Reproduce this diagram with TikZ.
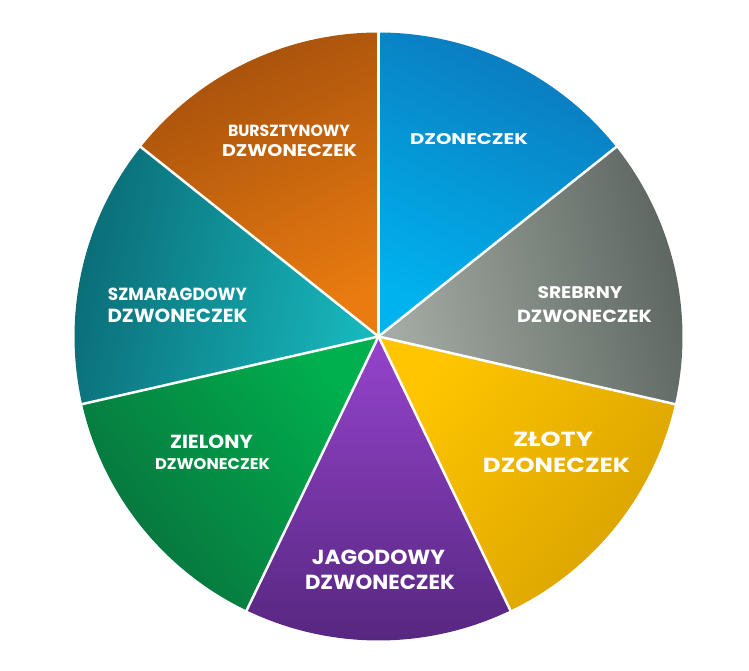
\documentclass[tikz,border=0pt]{standalone}
\usepackage{fontspec}
\usepackage{graphicx}
\setmainfont{Poppins}
\definecolor{bluedark}{HTML}{0B79BD}\definecolor{bluelight}{HTML}{00B2EE}
\definecolor{greydark}{HTML}{5A635D}\definecolor{greylight}{HTML}{A3ABA4}
\definecolor{golddark}{HTML}{D8A200}\definecolor{goldlight}{HTML}{FFC600}
\definecolor{purpledark}{HTML}{55267E}\definecolor{purplelight}{HTML}{9544CC}
\definecolor{greendark}{HTML}{08703C}\definecolor{greenlight}{HTML}{00B04E}
\definecolor{tealdark}{HTML}{0A6A74}\definecolor{teallight}{HTML}{17B7BC}
\definecolor{orangedark}{HTML}{A4500C}\definecolor{orangelight}{HTML}{E97B10}
\newcommand{\lbl}[3]{\resizebox{#1pt}{#2pt}{\bfseries #3}}
\tikzset{
  slice/.style n args={3}{shade, shading=axis, top color=#1, bottom color=#2, shading angle=#3},
  sep/.style={draw=white, line width=2.5pt},
  lab/.style={text=white, inner sep=0pt, anchor=center}
}
\begin{document}
\begin{tikzpicture}[x=1pt,y=1pt]
\useasboundingbox (0,0) rectangle (749,670);
\coordinate (C) at (378.5,333.5);
\def\R{304}
% slices
\path[slice={bluedark}{bluelight}{-25.71}] (C) -- ++(90:\R) arc[start angle=90, end angle=38.571, radius=\R] -- cycle;
\path[slice={greydark}{greylight}{-77.14}] (C) -- ++(38.571:\R) arc[start angle=38.571, end angle=-12.857, radius=\R] -- cycle;
\path[slice={golddark}{goldlight}{-128.57}] (C) -- ++(-12.857:\R) arc[start angle=-12.857, end angle=-64.286, radius=\R] -- cycle;
\path[slice={purpledark}{purplelight}{-180}] (C) -- ++(-64.286:\R) arc[start angle=-64.286, end angle=-115.714, radius=\R] -- cycle;
\path[slice={greendark}{greenlight}{-231.43}] (C) -- ++(-115.714:\R) arc[start angle=-115.714, end angle=-167.143, radius=\R] -- cycle;
\path[slice={tealdark}{teallight}{-282.86}] (C) -- ++(-167.143:\R) arc[start angle=-167.143, end angle=-218.571, radius=\R] -- cycle;
\path[slice={orangedark}{orangelight}{25.71}] (C) -- ++(141.429:\R) arc[start angle=141.429, end angle=90, radius=\R] -- cycle;
% separators
\foreach \a in {90,38.571,-12.857,-64.286,-115.714,-167.143,141.429}
  \draw[sep] (C) -- ++(\a:\R+1);
% labels
\node[lab] (o1) at (289,539) {\lbl{122}{11.5}{BURSZTYNOWY}};
\node[lab] (o2) at (289.5,519) {\lbl{135}{12}{DZWONECZEK}};
\node[lab] (b1) at (469,531) {\lbl{118}{11}{DZONECZEK}};
\node[lab] (g1) at (580,377) {\lbl{85}{12}{SREBRNY}};
\node[lab] (g2) at (584.5,353.5) {\lbl{135}{12.5}{DZWONECZEK}};
\node[lab] (t1) at (177.5,375.5) {\lbl{139}{12.5}{SZMARAGDOWY}};
\node[lab] (t2) at (177.5,354) {\lbl{140}{13.5}{DZWONECZEK}};
\node[lab] (e1) at (211.5,228) {\lbl{83}{13.5}{ZIELONY}};
\node[lab] (e2) at (212.5,205.5) {\lbl{115}{11}{DZWONECZEK}};
\node[lab] (y1) at (553,230.5) {\lbl{80}{14.5}{ZŁOTY}};
\node[lab] (y2) at (556.5,204.5) {\lbl{147}{14.5}{DZONECZEK}};
\node[lab] (p1) at (378.5,112.5) {\lbl{133}{14.5}{JAGODOWY}};
\node[lab] (p2) at (380,87.5) {\lbl{150}{14.5}{DZWONECZEK}};
\end{tikzpicture}
\end{document}
